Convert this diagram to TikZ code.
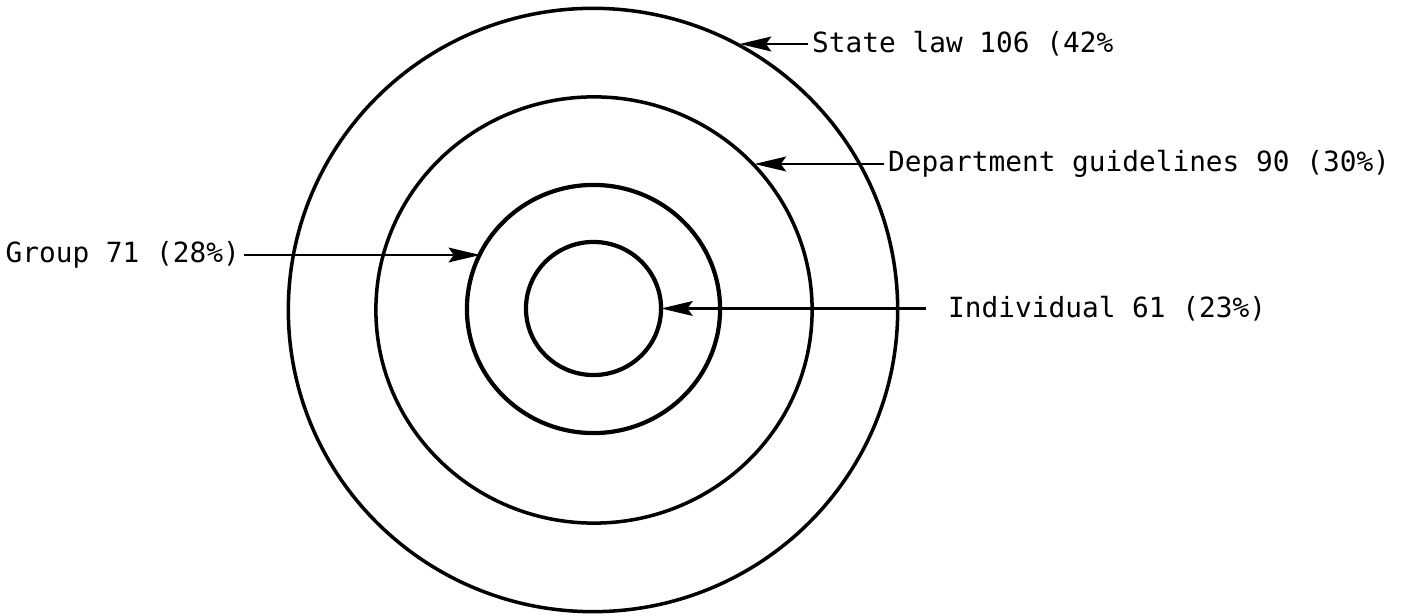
\documentclass[tikz,border=0pt]{standalone}
\usepackage{fontspec}
\setmonofont{DejaVu Sans Mono}
\usetikzlibrary{arrows.meta, shapes.geometric}
\tikzset{
  arr/.style={-{Stealth[length=9pt,width=4.2pt,inset=1.5pt]}, line width=0.7pt, draw=black},
  ring/.style={draw=black, ellipse, inner sep=0pt, outer sep=0pt, line width=1pt},
  lab/.style={font=\ttfamily\fontsize{7.9}{9}\selectfont, inner sep=1pt}
}

\begin{document}
\begin{tikzpicture}[x=0.01cm, y=-0.01cm]
\useasboundingbox (0,0) rectangle (1406,616);
% rings, outermost first
\node[ring, minimum width=6.09cm, minimum height=6.03cm] (law) at (593,310) {};
\node[ring, minimum width=4.36cm, minimum height=4.26cm] (guide) at (594,310) {};
\node[ring, line width=1.2pt, minimum width=2.53cm, minimum height=2.48cm] (group) at (593.5,309) {};
\node[ring, line width=1.2pt, minimum width=1.35cm, minimum height=1.33cm] (indiv) at (593.5,308.5) {};
% labels
\node[lab, anchor=west] (lawlab) at (808,44) {State law 106 (42\%};
\node[lab, anchor=west] (guidelab) at (884,164) {Department guidelines 90 (30\%)};
\node[lab, anchor=east] (grouplab) at (244,255) {Group 71 (28\%)};
\node[lab, anchor=west] (indivlab) at (944,308.5) {Individual 61 (23\%)};
% pointers
\draw[arr] (lawlab.west) -- (lawlab.west -| law.61);
\draw[arr] (guidelab.west) -- (guidelab.west -| guide.42);
\draw[arr] (grouplab.east) -- (grouplab.east -| group.154);
\draw[arr, shorten <=5pt] (indivlab.west) -- (indivlab.west -| indiv.east);
\end{tikzpicture}
\end{document}
